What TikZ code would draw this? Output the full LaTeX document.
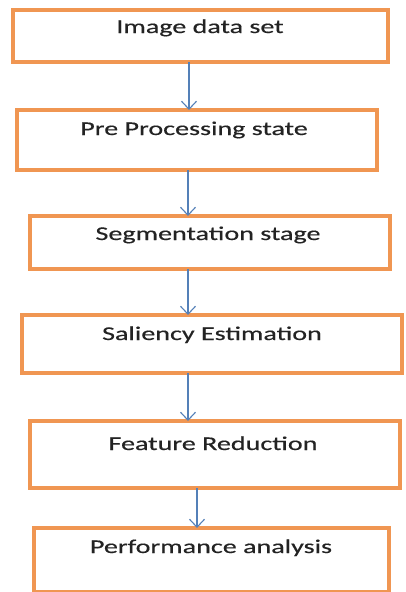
\documentclass[tikz,border=0pt]{standalone}
\usepackage{fontspec}
\setmainfont{Carlito}[FakeStretch=1.44,FakeBold=0.4]
\usetikzlibrary{arrows.meta}
\definecolor{boxorange}{RGB}{240,150,82}
\definecolor{arrowblue}{RGB}{84,128,184}
\definecolor{txtgray}{RGB}{35,35,35}
\tikzset{
  stagebox/.style={draw=boxorange, line width=4.2pt, fill=white, rectangle, outer sep=0pt, inner sep=0pt, anchor=north west},
  lbl/.style={anchor=base, inner sep=0pt, text=txtgray, font=\fontsize{19.5}{23}\selectfont},
  arr/.style={draw=arrowblue, line width=1.1pt, -{Straight Barb[length=8pt,width=15pt,line width=1.1pt]}}
}
\begin{document}
\begin{tikzpicture}[x=1pt,y=-1pt]
\useasboundingbox (0,0) rectangle (406,592);
\fill[white] (0,0) rectangle (406,592);
\begin{scope}
\clip (0,0) rectangle (406,592);
\node[stagebox, minimum width=375pt, minimum height=52pt] (b1) at (13,10) {};
\node[stagebox, minimum width=360pt, minimum height=60pt] (b2) at (17,110) {};
\node[stagebox, minimum width=360pt, minimum height=53pt] (b3) at (30,216) {};
\node[stagebox, minimum width=380pt, minimum height=58pt] (b4) at (22,315) {};
\node[stagebox, minimum width=370pt, minimum height=67pt] (b5) at (30,421) {};
\node[stagebox, minimum width=355pt, minimum height=64pt] (b6) at (34,528) {};
\end{scope}
\node[lbl] (t1) at (200,33) {Image data set};
\node[lbl] (t2) at (194,135) {Pre Processing state};
\node[lbl] (t3) at (208,240) {Segmentation stage};
\node[lbl] (t4) at (212,340) {Saliency Estimation};
\node[lbl] (t5) at (213,450) {Feature Reduction};
\node[lbl] (t6) at (211,553) {Performance analysis};
\draw[arr] (b1.south -| 189,0) -- (b2.north -| 189,0);
\draw[arr] (b2.south -| 188,0) -- (b3.north -| 188,0);
\draw[arr] (b3.south -| 188,0) -- (b4.north -| 188,0);
\draw[arr] (b4.south -| 188,0) -- (b5.north -| 188,0);
\draw[arr] (b5.south -| 197,0) -- (b6.north -| 197,0);
\end{tikzpicture}
\end{document}
